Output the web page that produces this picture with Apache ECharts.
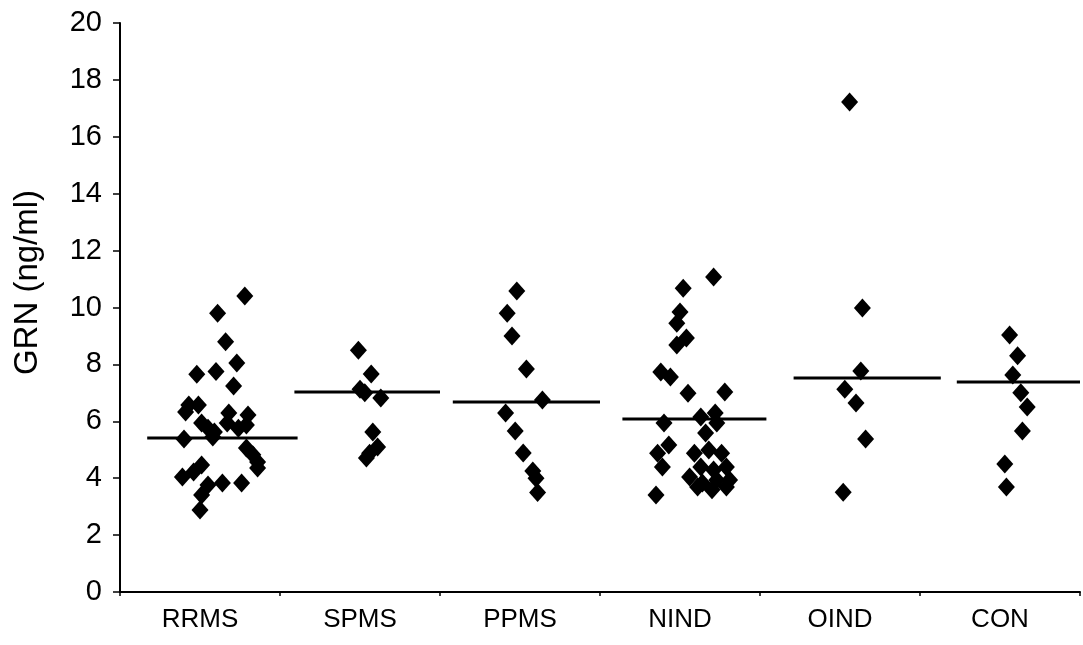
<!DOCTYPE html>
<html>
<head>
<meta charset="utf-8">
<script src="https://cdn.jsdelivr.net/npm/echarts@6/dist/echarts.min.js"></script>
<style>
  html, body { margin: 0; padding: 0; background: #fff; }
  #chart { width: 1083px; height: 645px; }
</style>
</head>
<body>
<div id="chart"></div>
<script>
  // 分组
  var groups = ['RRMS', 'SPMS', 'PPMS', 'NIND', 'OIND', 'CON'];
  var yTicks = [0, 2, 4, 6, 8, 10, 12, 14, 16, 18, 20];

  // 每个点: [x(类目单位, 含抖动), GRN值]
  var rrms = [
    [0.78, 10.4], [0.61, 9.8], [0.66, 8.8], [0.73, 8.05], [0.48, 7.65], [0.60, 7.75],
    [0.71, 7.24], [0.43, 6.57], [0.41, 6.33], [0.49, 6.57], [0.51, 5.94], [0.55, 5.76],
    [0.59, 5.62], [0.58, 5.45], [0.68, 6.29], [0.67, 5.94], [0.74, 5.76], [0.80, 6.22],
    [0.79, 5.87], [0.40, 5.38], [0.79, 5.06], [0.83, 4.82], [0.86, 4.57], [0.86, 4.36],
    [0.51, 4.46], [0.46, 4.22], [0.39, 4.04], [0.55, 3.76], [0.64, 3.83], [0.76, 3.83],
    [0.51, 3.41], [0.50, 2.88]
  ];
  var spms = [
    [1.49, 8.5], [1.57, 7.66], [1.50, 7.13], [1.53, 7.0], [1.63, 6.82],
    [1.58, 5.62], [1.61, 5.1], [1.56, 4.88], [1.54, 4.71]
  ];
  var ppms = [
    [2.48, 10.58], [2.42, 9.8], [2.45, 9.0], [2.54, 7.84], [2.64, 6.75],
    [2.41, 6.29], [2.47, 5.66], [2.52, 4.89], [2.58, 4.25], [2.60, 4.0], [2.61, 3.5]
  ];
  var nind = [
    [3.71, 11.07], [3.52, 10.68], [3.50, 9.84], [3.48, 9.45], [3.54, 8.93], [3.48, 8.68],
    [3.38, 7.73], [3.44, 7.56], [3.55, 6.99], [3.78, 7.03], [3.40, 5.94], [3.43, 5.17],
    [3.36, 4.88], [3.39, 4.39], [3.35, 3.41],
    [3.63, 6.15], [3.72, 6.29], [3.66, 5.59], [3.73, 5.94], [3.59, 4.88], [3.68, 4.99],
    [3.76, 4.88], [3.63, 4.39], [3.71, 4.29], [3.79, 4.39], [3.56, 4.04], [3.64, 3.83],
    [3.73, 3.94], [3.81, 3.94], [3.61, 3.69], [3.70, 3.59], [3.79, 3.69]
  ];
  var oind = [
    [4.56, 17.22], [4.64, 9.98], [4.63, 7.77], [4.53, 7.13], [4.60, 6.64], [4.66, 5.38], [4.52, 3.51]
  ];
  var con = [
    [5.56, 9.03], [5.61, 8.3], [5.58, 7.63], [5.63, 7.0], [5.67, 6.5],
    [5.64, 5.66], [5.53, 4.5], [5.54, 3.69]
  ];

  // 中位数线
  var medians = [5.41, 7.03, 6.68, 6.08, 7.52, 7.38];
  var medianSpans = [[0.17, 1.11], [1.09, 2.0], [2.08, 3.0], [3.14, 4.04], [4.21, 5.13], [5.23, 6.0]];

  var points = rrms.concat(spms, ppms, nind, oind, con);

  var medianSeries = medians.map(function (m, i) {
    return {
      type: 'line',
      xAxisIndex: 1,
      data: [[medianSpans[i][0], m], [medianSpans[i][1], m]],
      symbol: 'none',
      lineStyle: { color: '#000', width: 3 },
      z: 1,
      silent: true
    };
  });

  var myChart = echarts.init(document.getElementById('chart'));
  myChart.setOption({
    animation: false,
    grid: { left: 120, right: 3, top: 23, bottom: 53 },
    xAxis: [
      {
        type: 'category',
        data: groups,
        boundaryGap: true,
        axisLine: { lineStyle: { color: '#000', width: 2 } },
        axisTick: { show: true, length: 4, lineStyle: { color: '#000', width: 1.5 } },
        axisLabel: {
          color: '#000', fontSize: 26, margin: 15,
          fontFamily: 'Liberation Sans, Arial, sans-serif'
        }
      },
      {
        type: 'value',
        min: 0,
        max: 6,
        show: false
      }
    ],
    yAxis: {
      type: 'value',
      min: yTicks[0],
      max: yTicks[yTicks.length - 1],
      interval: 2,
      name: 'GRN (ng/ml)',
      nameLocation: 'middle',
      nameGap: 76,
      nameTextStyle: {
        color: '#000', fontSize: 33, padding: [0, 0, 0, 50],
        fontFamily: 'Liberation Sans, Arial, sans-serif'
      },
      axisLine: { show: true, lineStyle: { color: '#000', width: 2 } },
      axisTick: { show: true, length: 7, lineStyle: { color: '#000', width: 1.5 } },
      axisLabel: {
        color: '#000', fontSize: 29, margin: 18,
        fontFamily: 'Liberation Sans, Arial, sans-serif'
      },
      splitLine: { show: false }
    },
    series: medianSeries.concat([
      {
        type: 'scatter',
        xAxisIndex: 1,
        data: points,
        symbol: 'diamond',
        symbolSize: [17, 19],
        itemStyle: { color: '#000', opacity: 1 },
        z: 2
      }
    ])
  });
</script>
</body>
</html>
